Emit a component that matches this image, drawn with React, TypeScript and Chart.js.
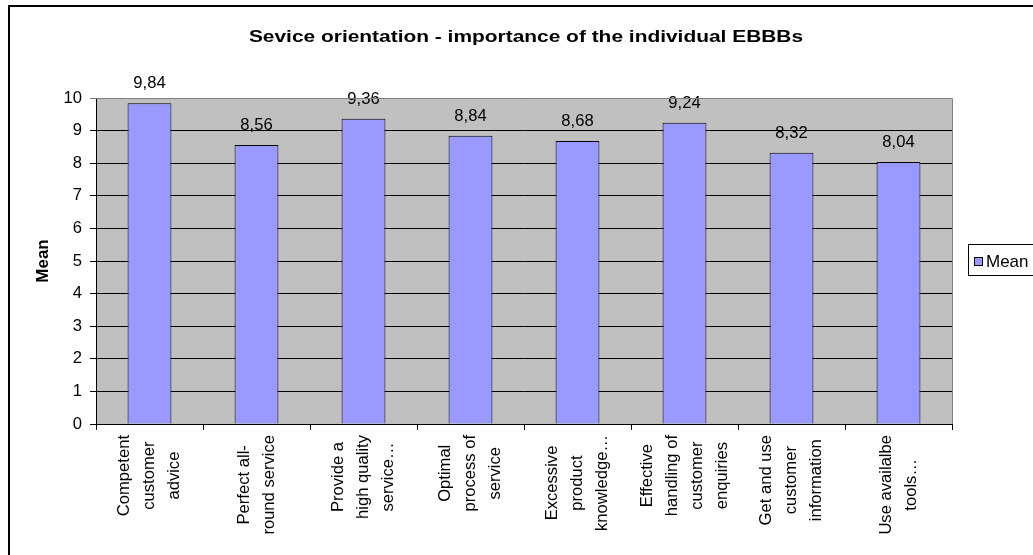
import React, { useEffect, useRef } from "react";
import { Chart, registerables } from "chart.js";

Chart.register(...registerables);

const chartTitle = "Sevice orientation - importance of the individual EBBBs";
const seriesName = "Mean";
const yAxisTitle = "Mean";
const categories: string[][] = [
  ["Competent", "customer", "advice"],
  ["Perfect all-", "round service"],
  ["Provide a", "high quality", "service…"],
  ["Optimal", "process of", "service"],
  ["Excessive", "product", "knowledge…"],
  ["Effective", "handling of", "customer", "enquiries"],
  ["Get and use", "customer", "information"],
  ["Use availalbe", "tools…"],
];
const meanValues: number[] = [9.84, 8.56, 9.36, 8.84, 8.68, 9.24, 8.32, 8.04];
const yMin = 0;
const yMax = 10;
const yStep = 1;

const FONT = "'Liberation Sans', Arial, sans-serif";
const BAR_COLOR = "#9999FF";
const PLOT_BG = "#C0C0C0";

const decorPlugin = {
  id: "decor",
  beforeDraw(chart: any) {
    const { ctx, chartArea } = chart;
    ctx.save();
    ctx.fillStyle = "#ffffff";
    ctx.fillRect(0, 0, chart.width, chart.height);
    ctx.fillStyle = PLOT_BG;
    ctx.fillRect(chartArea.left, chartArea.top, chartArea.right - chartArea.left, chartArea.bottom - chartArea.top);
    ctx.restore();
  },
  afterDraw(chart: any) {
    const { ctx, chartArea } = chart;
    const xScale = chart.scales.x;
    ctx.save();
    // plot border (top & right in gray)
    ctx.strokeStyle = "#808080";
    ctx.lineWidth = 1;
    ctx.beginPath();
    ctx.moveTo(chartArea.left, chartArea.top + 0.5);
    ctx.lineTo(chartArea.right + 0.5, chartArea.top + 0.5);
    ctx.lineTo(chartArea.right + 0.5, chartArea.bottom);
    ctx.stroke();

    // outer frame
    ctx.strokeStyle = "#000";
    ctx.lineWidth = 2;
    ctx.strokeRect(9, 6, 1100, 600);

    // title
    ctx.fillStyle = "#000";
    ctx.font = `bold 17px ${FONT}`;
    ctx.textAlign = "center";
    ctx.textBaseline = "alphabetic";
    ctx.save();
    ctx.translate(526, 42);
    ctx.scale(1.23, 1);
    ctx.fillText(chartTitle, 0, 0);
    ctx.restore();

    // x category labels: rotated, lines centred
    ctx.font = `16.6px ${FONT}`;
    const lineH = 25;
    chart.data.labels.forEach((lab: string[], i: number) => {
      const lines = Array.isArray(lab) ? lab : [lab];
      const maxW = Math.max(...lines.map((l) => ctx.measureText(l).width));
      const x = xScale.getPixelForValue(i);
      ctx.save();
      ctx.translate(x, 435 + maxW / 2);
      ctx.rotate(-Math.PI / 2);
      ctx.textAlign = "center";
      ctx.textBaseline = "middle";
      lines.forEach((l, j) => {
        ctx.fillText(l, 0, (j - (lines.length - 1) / 2) * lineH);
      });
      ctx.restore();
    });

    // legend
    const ds = chart.data.datasets[0];
    ctx.lineWidth = 1;
    ctx.strokeStyle = "#000";
    ctx.strokeRect(968.5, 244.5, 120, 31);
    ctx.fillStyle = BAR_COLOR;
    ctx.fillRect(974.5, 257.5, 8, 8);
    ctx.strokeRect(974.5, 257.5, 8, 8);
    ctx.fillStyle = "#000";
    ctx.font = `17px ${FONT}`;
    ctx.textAlign = "left";
    ctx.textBaseline = "middle";
    ctx.fillText(ds.label, 986, 262);
    ctx.restore();
  },
  afterDatasetsDraw(chart: any) {
    const { ctx } = chart;
    const meta = chart.getDatasetMeta(0);
    const ds = chart.data.datasets[0];
    ctx.save();
    ctx.fillStyle = "#000";
    ctx.font = `16.6px ${FONT}`;
    ctx.textAlign = "center";
    ctx.textBaseline = "alphabetic";
    meta.data.forEach((bar: any, i: number) => {
      const v = ds.data[i] as number;
      ctx.fillText(v.toFixed(2).replace(".", ","), bar.x, bar.y - 15);
    });
    ctx.restore();
  },
};

export default function App() {
  const canvasRef = useRef<HTMLCanvasElement | null>(null);

  useEffect(() => {
    if (!canvasRef.current) return;
    const chart = new Chart(canvasRef.current, {
      type: "bar",
      data: {
        labels: categories,
        datasets: [
          {
            label: seriesName,
            data: meanValues,
            backgroundColor: BAR_COLOR,
            borderColor: "#000",
            borderWidth: 1,
            barPercentage: 0.41,
            categoryPercentage: 1,
          },
        ],
      },
      options: {
        animation: false,
        responsive: false,
        devicePixelRatio: 1,
        layout: { padding: { left: 20, top: 98, right: 81, bottom: 0 } },
        plugins: {
          legend: { display: false },
          title: { display: false },
          tooltip: { enabled: false },
        },
        scales: {
          x: {
            grid: {
              display: true,
              drawOnChartArea: false,
              drawTicks: true,
              tickLength: 6,
              color: "#000",
              offset: true,
            },
            border: { color: "#000", width: 1 },
            ticks: { display: false },
            afterFit: (s: any) => {
              s.height = 131;
            },
          },
          y: {
            min: yMin,
            max: yMax,
            ticks: {
              stepSize: yStep,
              color: "#000",
              padding: 8,
              font: { family: FONT, size: 16.6 },
            },
            grid: {
              color: (c: any) => (c.tick && c.tick.value === yMax ? "#808080" : "#000"),
              tickLength: 6,
              lineWidth: 1,
            },
            border: { color: "#000", width: 1 },
            title: {
              display: true,
              text: yAxisTitle,
              color: "#000",
              font: { family: FONT, size: 17, weight: "bold" },
              padding: { top: 13, bottom: 0 },
            },
            afterFit: (s: any) => {
              s.width = 76;
            },
          },
        },
      },
      plugins: [decorPlugin],
    });
    return () => chart.destroy();
  }, []);

  return (
    <div style={{ position: "absolute", left: 0, top: 0, width: 1033, height: 555 }}>
      <canvas ref={canvasRef} width={1033} height={555} style={{ display: "block" }} />
    </div>
  );
}
